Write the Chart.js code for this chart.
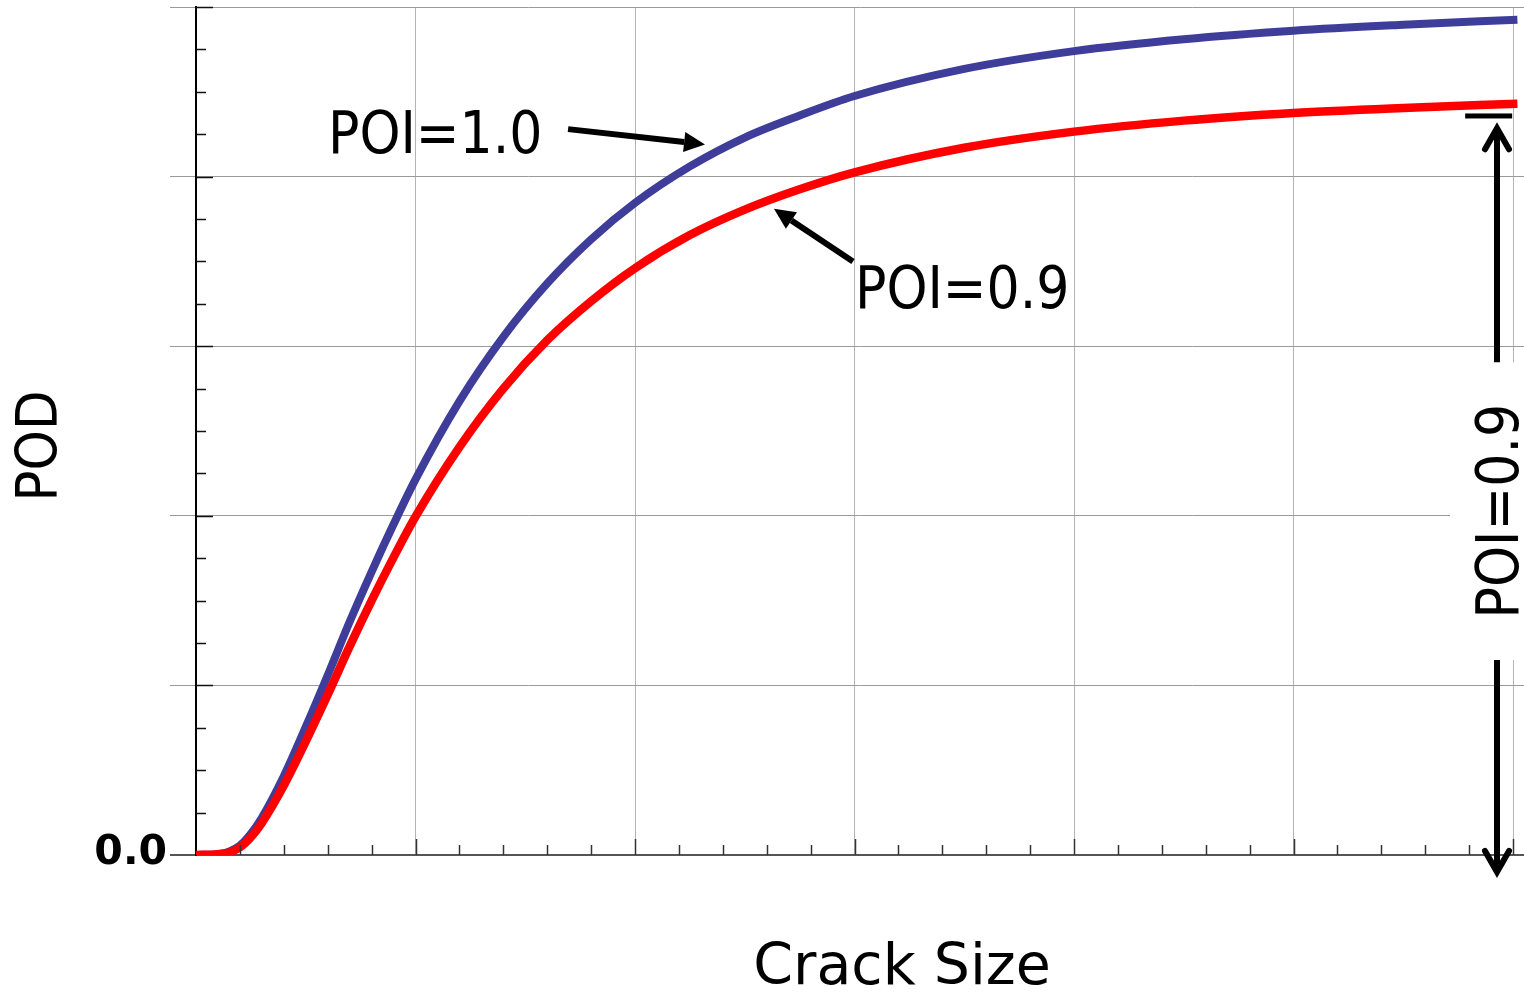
<!DOCTYPE html>
<html>
<head>
<meta charset="utf-8">
<title>POD vs Crack Size</title>
<script src="https://cdn.jsdelivr.net/npm/chart.js@4.4.1/dist/chart.umd.min.js"></script>
<style>
  html, body { margin: 0; padding: 0; background: #fff; }
  canvas { display: block; }
</style>
</head>
<body>
<canvas id="podChart" width="1524" height="996"></canvas>
<script>
// crack size (arbitrary units) and probability of detection for two POI levels
var crackSize = [0, 0.1, 0.15, 0.2, 0.25, 0.3, 0.4, 0.5, 0.6, 0.7, 0.8, 0.9, 1.0, 1.2, 1.4, 1.6, 1.8, 2.0, 2.25, 2.5, 2.75, 3.0, 3.5, 4.0, 4.5, 5.0, 5.5, 6.02];
var podPOI10 = [0, 0.001, 0.004, 0.011, 0.025, 0.044, 0.093, 0.151, 0.212, 0.275, 0.334, 0.390, 0.443, 0.535, 0.611, 0.674, 0.726, 0.769, 0.812, 0.846, 0.872, 0.895, 0.927, 0.948, 0.962, 0.972, 0.979, 0.985];
var podPOI09 = [0, 0.001, 0.003, 0.009, 0.021, 0.038, 0.082, 0.134, 0.189, 0.246, 0.300, 0.351, 0.399, 0.481, 0.550, 0.607, 0.653, 0.692, 0.731, 0.761, 0.785, 0.805, 0.834, 0.853, 0.866, 0.875, 0.881, 0.886];
var yTickValues = [0];
var yTickLabels = ['0.0'];

function toPoints(xs, ys) {
  var out = [];
  for (var i = 0; i < xs.length; i++) out.push({x: xs[i], y: ys[i]});
  return out;
}

var labelFont = '"DejaVu Sans Condensed", "DejaVu Sans", sans-serif';

// filled-head arrow
function solidArrow(ctx, x1, y1, x2, y2) {
  var a = Math.atan2(y2 - y1, x2 - x1);
  var len = 21, half = 10;
  var bx = x2 - len * Math.cos(a), by = y2 - len * Math.sin(a);
  ctx.lineWidth = 6;
  ctx.lineCap = 'butt';
  ctx.beginPath();
  ctx.moveTo(x1, y1);
  ctx.lineTo(bx, by);
  ctx.stroke();
  ctx.beginPath();
  ctx.moveTo(x2, y2);
  ctx.lineTo(bx + half * Math.sin(a), by - half * Math.cos(a));
  ctx.lineTo(bx - half * Math.sin(a), by + half * Math.cos(a));
  ctx.closePath();
  ctx.fill();
}

// open chevron head, dir = -1 points up, +1 points down
function chevron(ctx, x, tipY, dir) {
  ctx.lineWidth = 6;
  ctx.lineCap = 'round';
  ctx.lineJoin = 'miter';
  ctx.beginPath();
  ctx.moveTo(x - 12, tipY - dir * 21);
  ctx.lineTo(x, tipY);
  ctx.lineTo(x + 12, tipY - dir * 21);
  ctx.stroke();
}

var podDecor = {
  id: 'podDecor',
  afterDatasetsDraw: function (chart) {
    var ctx = chart.ctx;
    var xs = chart.scales.x, ys = chart.scales.y;
    var px = function (v) { return xs.getPixelForValue(v); };
    var py = function (v) { return ys.getPixelForValue(v); };
    var left = chart.chartArea.left, bottom = chart.chartArea.bottom;
    var i;

    ctx.save();

    // minor / major ticks on the left axis
    ctx.strokeStyle = '#111';
    ctx.lineWidth = 1.5;
    for (i = 1; i <= 20; i++) {
      var yy = Math.round(py(i * 0.05)) + 0.5;
      ctx.beginPath();
      ctx.moveTo(left, yy);
      ctx.lineTo(left + (i % 4 === 0 ? 17 : 10), yy);
      ctx.stroke();
    }
    // ticks on the bottom axis
    ctx.strokeStyle = '#333';
    for (i = 1; i <= 30; i++) {
      var xx = Math.round(px(i * 0.2)) + 0.5;
      ctx.beginPath();
      ctx.moveTo(xx, bottom);
      ctx.lineTo(xx, bottom - (i % 5 === 0 ? 16 : 10));
      ctx.stroke();
    }

    // tick label
    ctx.fillStyle = '#000';
    ctx.font = 'bold 41px "DejaVu Sans", sans-serif';
    ctx.textAlign = 'right';
    ctx.textBaseline = 'middle';
    for (i = 0; i < yTickValues.length; i++) {
      ctx.fillText(yTickLabels[i], 167, py(yTickValues[i]) - 2);
    }

    // axis titles
    ctx.textBaseline = 'alphabetic';
    ctx.textAlign = 'center';
    ctx.font = '57px "DejaVu Sans", sans-serif';
    ctx.fillText('Crack Size', 902, 984);
    ctx.save();
    ctx.translate(57, 446);
    ctx.rotate(-Math.PI / 2);
    ctx.font = '57px ' + labelFont;
    ctx.fillText('POD', 0, 0);
    ctx.restore();

    // curve labels with pointers
    ctx.font = '58px ' + labelFont;
    ctx.textAlign = 'left';
    ctx.fillText('POI=1.0', px(0.601), py(0.828));
    ctx.strokeStyle = '#000';
    solidArrow(ctx, px(1.695), py(0.856), px(2.319), py(0.838));
    ctx.fillText('POI=0.9', px(3.002), py(0.645));
    solidArrow(ctx, px(2.993), py(0.700), px(2.633), py(0.762));

    // POI=0.9 span marker on the right
    var ax = px(5.927);
    ctx.fillStyle = '#fff';
    ctx.fillRect(1450, py(0.581), chart.width - 1450, py(0.230) - py(0.581));
    ctx.fillStyle = '#000';
    ctx.fillRect(px(5.782), py(0.8715) - 2.5, px(5.996) - px(5.782), 5);
    ctx.lineWidth = 6;
    ctx.lineCap = 'butt';
    ctx.beginPath();
    ctx.moveTo(ax, py(0.857) + 2);
    ctx.lineTo(ax, py(0.581));
    ctx.moveTo(ax, py(0.230));
    ctx.lineTo(ax, py(-0.020) - 2);
    ctx.stroke();
    chevron(ctx, ax, py(0.857), -1);
    chevron(ctx, ax, py(-0.020), 1);

    ctx.save();
    ctx.translate(1518, (py(0.581) + py(0.230)) / 2);
    ctx.rotate(-Math.PI / 2);
    ctx.font = '58px ' + labelFont;
    ctx.textAlign = 'center';
    ctx.fillText('POI=0.9', 0, 0);
    ctx.restore();

    ctx.restore();
  }
};

var ctx = document.getElementById('podChart').getContext('2d');

var chart = new Chart(ctx, {
  type: 'line',
  data: {
    datasets: [
      {
        label: 'POI=0.9',
        data: toPoints(crackSize, podPOI09),
        borderColor: '#ff0000',
        borderWidth: 8.5,
        order: 1
      },
      {
        label: 'POI=1.0',
        data: toPoints(crackSize, podPOI10),
        borderColor: '#3f3d9a',
        borderWidth: 8,
        order: 2
      }
    ]
  },
  options: {
    responsive: false,
    animation: false,
    events: [],
    layout: { padding: { left: 170, top: 7, right: 0, bottom: 141 } },
    elements: {
      point: { radius: 0 },
      line: { cubicInterpolationMode: 'monotone', fill: false, borderCapStyle: 'butt' }
    },
    plugins: {
      legend: { display: false },
      tooltip: { enabled: false }
    },
    scales: {
      x: {
        type: 'linear',
        min: 0,
        max: 6.05,
        ticks: { display: false, stepSize: 1, includeBounds: false },
        border: { display: false },
        grid: {
          drawTicks: false,
          color: function (c) { return c.tick && c.tick.value === 0 ? 'rgba(0,0,0,0)' : '#b4b4b4'; },
          lineWidth: 1
        }
      },
      y: {
        min: 0,
        max: 1,
        ticks: { display: false, stepSize: 0.2 },
        border: { display: true, color: '#000', width: 2 },
        grid: {
          drawTicks: true,
          tickLength: 26,
          color: function (c) { return c.tick && c.tick.value === 0 ? '#555' : '#9a9a9a'; },
          lineWidth: function (c) { return c.tick && c.tick.value === 0 ? 2 : 1; }
        }
      }
    }
  },
  plugins: [podDecor]
});
</script>
</body>
</html>
